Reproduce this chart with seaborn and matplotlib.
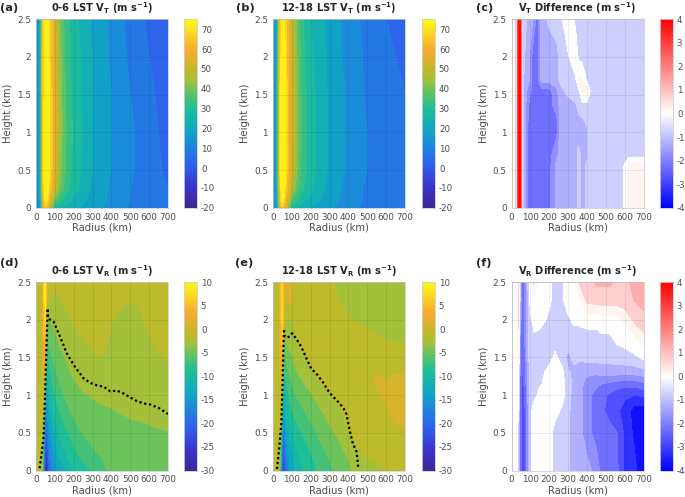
import matplotlib
matplotlib.use("Agg")
import matplotlib.pyplot as plt
from matplotlib.cm import ScalarMappable
from matplotlib.colors import LinearSegmentedColormap, Normalize
import numpy as np
import seaborn as sns

# tangential wind
radius_vt = [0, 15, 25, 35, 45, 55, 65, 80, 100, 130, 160, 200, 250, 300, 400, 500, 600, 700]
height_vt = [0, 0.1, 0.25, 0.5, 1, 1.5, 2, 2.5]
vt_night = [
    [5, 12, 22, 40, 62, 62, 55, 40, 29, 25, 23, 21, 19, 17, 13, 9, 6, 5],
    [6, 13, 25, 48, 70, 72, 64, 52, 38, 31, 27, 24, 21, 18, 14, 10, 7, 5],
    [6, 14, 28, 56, 74, 75, 71, 61, 49, 38, 32, 27, 23, 19, 14, 10, 7, 5],
    [6, 15, 30, 62, 74, 75, 73, 65, 54, 41, 34, 28, 24, 20, 15, 11, 7, 4],
    [6, 15, 30, 62, 74, 75, 73, 65, 55, 42, 35, 29, 24, 20, 15, 11, 7, 3],
    [6, 15, 30, 61, 73, 75, 73, 65, 55, 42, 34, 28, 24, 20, 15, 10, 6, 3],
    [6, 15, 30, 60, 72, 74, 72, 64, 54, 41, 33, 28, 24, 20, 14, 9, 5, 2],
    [5, 15, 29, 58, 70, 73, 71, 63, 52, 39, 32, 27, 23, 19, 14, 8, 4, 1],
]
vt_day = [
    [5, 12, 24, 44, 64, 62, 54, 40, 28, 24, 22, 20, 18, 16, 12, 8, 6, 6],
    [6, 14, 28, 52, 72, 72, 62, 50, 36, 30, 26, 23, 20, 17, 13, 9, 6, 5],
    [6, 15, 31, 58, 75, 75, 69, 58, 46, 36, 30, 26, 22, 18, 13, 9, 6, 5],
    [6, 15, 32, 64, 75, 75, 71, 62, 51, 39, 32, 27, 23, 19, 14, 10, 6, 5],
    [6, 15, 32, 64, 75, 75, 71, 62, 52, 40, 33, 27, 23, 19, 14, 10, 6, 5],
    [6, 15, 32, 63, 74, 74, 71, 62, 52, 40, 32, 27, 23, 19, 14, 9, 6, 5],
    [6, 15, 31, 62, 73, 73, 70, 61, 51, 39, 31, 26, 22, 19, 13, 9, 6, 4],
    [5, 15, 30, 60, 71, 72, 69, 60, 49, 37, 30, 25, 22, 18, 13, 8, 5, 4],
]

radius_vt_diff = [0, 12, 22, 30, 36, 42, 48, 55, 70, 90, 110, 135, 160, 200, 240, 260, 300, 340, 355,
                  375, 400, 420, 450, 500, 590, 620, 700]
height_vt_diff = [0, 0.55, 0.7, 1, 1.15, 1.35, 1.55, 1.7, 2, 2.5]
vt_diff = [
    [-.3, -.3, .7, .7, 3.5, 4, 4, -.8, -1.3, -2.2, -2.3, -2.3, -2.2, -2.2, -1.3, -1.3, -1.3, -1.2, -.8, -1.2, -.9, -.7, -.7, -.7, -.6, .2, .2],
    [-.3, -.3, .7, .7, 3.5, 4, 4, -.8, -1.3, -2.2, -2.3, -2.3, -2.2, -2.2, -1.3, -1.3, -1.3, -1.2, -.8, -1.2, -.9, -.7, -.7, -.7, -.6, .2, .2],
    [-.3, -.3, .7, .7, 3.5, 4, 4, -.8, -1.3, -2.2, -2.3, -2.3, -2.2, -2.2, -1.6, -1.3, -1.3, -1.2, -.8, -1.2, -1.1, -.7, -.7, -.7, -.7, -.7, -.7],
    [-.3, -.3, .7, .7, 3.5, 4, 4, -.8, -1.3, -2.2, -2.3, -2.3, -2.3, -2.2, -2.1, -1.3, -1.3, -1.3, -1.3, -1.2, -1.1, -.7, -.7, -.7, -.7, -.7, -.7],
    [-.3, -.3, .7, .7, 3.5, 4, 4, -.8, -1.3, -2.1, -2.3, -2.3, -2.3, -2.2, -2.1, -1.3, -1.3, -1.3, -1.2, -1.1, -.9, -.7, -.7, -.7, -.7, -.7, -.7],
    [-.3, -.3, .7, .7, 3.5, 4, 4, -.8, -1.3, -2, -2.2, -2.3, -2.3, -2.2, -1.8, -1.3, -1.3, -1.1, -.8, -.7, -.7, -.7, -.7, -.7, -.7, -.7, -.7],
    [-.3, -.3, .7, .7, 3.5, 4, 4, -.8, -1.2, -1.8, -2.1, -2.2, -2.2, -2.2, -1.6, -1.2, -.8, -.7, -.7, .2, .2, -.6, -.7, -.7, -.7, -.7, -.7],
    [-.3, -.3, .7, .7, 3.5, 4, 4, -.8, -1.1, -1.3, -2.1, -2.2, -1.3, -1.3, -1.2, -.8, -.7, -.6, .1, .1, -.6, -.7, -.7, -.7, -.7, -.7, -.7],
    [-.3, -.3, .7, .7, 3.5, 4, 4, -.8, -1, -1.3, -2.1, -2.2, -1.3, -1.3, -1.2, -.8, -.6, .1, -.6, -.7, -.7, -.7, -.7, -.7, -.7, -.7, -.7],
    [-.3, -.3, .7, .7, 3.5, 4, 4, -.7, -.8, -1.2, -1.4, -2.2, -1.3, -.9, -.7, -.7, .1, -.7, -.7, -.7, -.7, -.7, -.7, -.7, -.7, -.7, -.7],
]

# radial wind
radius_vr = [0, 20, 35, 42, 50, 58, 70, 90, 120, 160, 200, 250, 300, 350, 400, 450, 500, 550, 600, 650, 700]
height_vr = [0, 0.25, 0.5, 0.75, 1, 1.25, 1.5, 1.75, 2, 2.25, 2.5]
vr_night = [
    [-.5, -1, -5, -18, -28, -27, -21, -16, -13.5, -12, -10, -8.8, -8, -6.6, -5.6, -5, -4.9, -4.9, -4.9, -4.8, -4.8],
    [-.5, -.5, -4, -15, -25, -24, -18, -14.5, -11.5, -9.8, -8.4, -7, -6.2, -5.7, -5.2, -5, -4.8, -4.8, -4.7, -4.6, -4.6],
    [-.5, -.5, -2.5, -10, -21, -20, -15, -12.5, -10, -8.3, -7, -5.9, -5.4, -5.1, -4.9, -4.7, -4.6, -4.5, -4.4, -4.2, -4.1],
    [-.5, -.5, -1, -6, -16, -17, -13, -10.5, -8.4, -6.9, -5.7, -4.7, -4.5, -4.3, -4.2, -4, -3.8, -3.7, -3.5, -3.4, -3.3],
    [-.5, -.5, -.5, -2, -10, -14, -11, -8.8, -7, -5.6, -4.8, -4.1, -3.9, -3.7, -3.6, -3.4, -3.3, -3.2, -3.1, -3, -3],
    [-.5, -.5, -.5, 1, -5, -12, -9, -7.2, -5.8, -4.7, -3.9, -3.5, -3.2, -3, -2.9, -2.8, -2.8, -2.7, -2.7, -2.6, -2.5],
    [-.5, -.5, -.5, 3, 1, -10, -7.4, -5.9, -4.8, -3.9, -3.2, -2.6, -2.2, -2, -2.3, -2.5, -2.6, -2.6, -2.6, -2.2, -1.9],
    [-.5, -.5, -.5, 4, 4, -7, -5.5, -4.8, -3.8, -3.1, -2.5, -2, -1.7, -1.6, -2.2, -2.5, -2.6, -2.5, -2.1, -1.6, -1.5],
    [-.5, -.5, -.5, 5, 7, -3, -4.2, -3.6, -3, -2.4, -1.8, -1.4, -1.2, -1.2, -1.9, -2.3, -2.5, -2.3, -1.6, -1.2, -1],
    [-.5, -.5, -.5, 6, 9, 0, -2.5, -2.5, -2.2, -1.7, -1.3, -1, -.8, -.9, -1.2, -1.8, -2, -1.8, -1.2, -.8, -.7],
    [-.5, -.5, -.5, 6, 9, 1, -1, -1.3, -1.3, -1.1, -.9, -.6, -.5, -.6, -.8, -1, -1, -1, -.8, -.6, -.5],
]
vr_day = [
    [-.5, -1, -4, -12, -24, -24, -20, -15, -12, -10, -9, -7.5, -6.5, -5.2, -4.4, -3.4, -2.8, -2.4, -2.1, -1.8, -1.6],
    [-.5, -.5, -3, -9, -21, -21, -17, -13, -10.5, -9, -8, -6.5, -5.5, -4.6, -3.6, -2.2, -1.6, -1.3, -1, -.7, -.5],
    [-.5, -.5, -1, -5, -17, -18, -14, -11, -9, -7.8, -6.8, -5.5, -4.5, -3.6, -2.2, -1.4, -1, -.8, -.6, -.3, -.2],
    [-.5, -.5, -.5, -2, -12, -15, -11.5, -9, -7.4, -6.4, -5.4, -4.4, -3.4, -2.4, -1.3, -.8, -.6, -.5, -.2, .3, .4],
    [-.5, -.5, -.5, 0, -6, -12, -9.5, -7.5, -6, -5, -4.2, -3, -2.2, -1.4, -.8, -.6, -.4, -.1, .2, .4, .5],
    [-.5, -.5, -.5, 1, -2, -9, -7.5, -6, -4.5, -3.6, -2.6, -1.6, -1.2, -1, -.7, -.6, -.3, .1, -.1, .1, .1],
    [-.5, -.5, -.5, 2, 3, -6.5, -5.5, -4.4, -3.4, -2.4, -1.4, -1, -.8, -.7, -.8, -.8, -.9, -.8, -.7, -.7, -1.2],
    [-.5, -.5, -.5, 3, 6, -3.5, -3.8, -3.2, -2.2, -1.2, -.8, -.7, -.7, -.8, -1, -1.2, -1.5, -1.8, -2.1, -2.3, -2.4],
    [-.5, -.5, -.5, 4, 7, -.5, -2.4, -2.4, -1.6, -.8, -.6, -.7, -.9, -1.3, -1.9, -2.2, -2.4, -2.5, -2.6, -2.7, -2.8],
    [-.5, -.5, -.5, 5, 7, 1, -.8, .5, -.9, -.6, -.7, -1, -1.5, -2, -2.4, -2.6, -2.8, -2.9, -3, -3, -3.2],
    [-.5, -.5, -.5, 5, 8, 2, 1, 2, -.5, -.8, -1, -1.3, -1.8, -2.2, -2.5, -2.7, -2.9, -3, -3.1, -3.3, -4.2],
]

radius_vr_diff = [0, 30, 38, 46, 55, 70, 85, 100, 120, 150, 200, 230, 270, 300, 330, 360, 400, 450, 480, 520, 560, 600, 650, 700]
height_vr_diff = [0, 0.5, 0.8, 1, 1.15, 1.3, 1.5, 1.75, 2, 2.25, 2.5]
vr_diff = [
    [-.2, -.2, -1, -2.3, -2.7, -2.7, -1.8, -.7, -.2, -.2, -.2, -.7, -.7, -.9, -1.2, -1.3, -1.3, -1.7, -2.2, -2.3, -2.4, -3.1, -3.3, -4],
    [-.2, -.2, -1, -2.3, -2.7, -2.7, -1.8, -.7, -.2, -.2, -.2, -.7, -.7, -.9, -1.2, -1.3, -1.8, -2.2, -2.3, -2.3, -2.5, -3.1, -3.6, -4],
    [-.2, -.2, -.6, -2.3, -2.7, -2.6, -1.7, -.7, -.2, -.2, -.2, -.3, -.6, -.9, -1.2, -1.3, -1.8, -2.2, -2.4, -2.7, -2.9, -3.2, -3.7, -3.8],
    [-.2, -.2, -.3, -2.3, -2.7, -2.5, -1.6, -.7, -.7, -.3, -.2, -.2, -.3, -.8, -1.2, -1.3, -1.8, -2.2, -2.3, -2.6, -2.8, -2.9, -3, -2.9],
    [-.2, -.2, -.2, -2.3, -2.7, -2.4, -1.5, -.7, -.7, -.6, -.2, -.2, -.3, -.8, -1.1, -1.3, -1.7, -1.9, -2, -2.1, -2.2, -2.3, -2.3, -2.1],
    [-.2, -.2, -.2, -2.2, -2.6, -2.3, -1.4, -.7, -.7, -.7, -.3, -.3, -.4, -.9, -1.2, -1.3, -1.4, -1.4, -1.3, -1.3, -1.3, -1.3, -1.3, -1.2],
    [-.2, -.2, .1, -2, -2.6, -2.2, -1.3, -.7, -.7, -.7, -.7, -.4, -.7, -1.2, -.8, -.9, -.8, -.8, -.8, -.8, -.7, -.7, -.6, -.4],
    [-.2, -.2, .4, -1.8, -2.5, -2, -1.3, -.7, -.6, -.7, -.7, -.7, -.7, -.7, -.7, -.7, -.7, -.7, -.6, -.6, -.4, -.3, -.1, .3],
    [-.2, -.2, .6, -1.5, -2.5, -2, -1.3, -.6, -.3, -.3, -.6, -.7, -.7, -.6, -.4, -.4, -.3, -.3, -.2, -.2, -.1, .1, .6, .9],
    [-.2, -.1, .7, -1.2, -2.5, -2, -1.2, -.3, -.2, -.2, -.4, -.7, -.6, -.2, -.2, -.2, .6, .7, .7, .7, .7, .8, 1, 1.1],
    [-.2, .1, .7, -1, -2.5, -2, -1.1, -.2, .6, -.2, -.3, -.7, -.6, -.2, -.2, .6, .7, 1.1, 1.1, 1.1, .9, .8, 1.2, 1.2],
]

# dotted contours
line_d_r = [19, 30, 40, 48, 55, 60, 62, 64, 94, 125, 164, 208, 253, 290, 323, 360, 394, 430, 465, 500, 535, 570, 606, 650, 700]
line_d_z = [0.03, 0.22, 0.44, 1.0, 1.6, 2.0, 2.15, 2.02, 1.97, 1.79, 1.55, 1.37, 1.22, 1.16, 1.13, 1.11, 1.05, 1.06, 1.02, 0.97, 0.92, 0.89, 0.875, 0.83, 0.75]
line_e_r = [21, 33, 44, 50, 55, 58, 62, 74, 88, 102, 125, 150, 175, 203, 235, 265, 300, 353, 375, 389, 405, 424, 442, 448, 452]
line_e_z = [0.02, 0.3, 0.62, 1.1, 1.6, 1.88, 1.78, 1.76, 1.78, 1.82, 1.74, 1.64, 1.5, 1.35, 1.27, 1.17, 1.03, 0.89, 0.82, 0.75, 0.55, 0.35, 0.26, 0.15, 0.02]

titles = ["0-6 LST $\\mathbf{V_T}$ (m s$^{\\mathbf{-1}}$)", "12-18 LST $\\mathbf{V_T}$ (m s$^{\\mathbf{-1}}$)",
          "$\\mathbf{V_T}$ Difference (m s$^{\\mathbf{-1}}$)", "0-6 LST $\\mathbf{V_R}$ (m s$^{\\mathbf{-1}}$)",
          "12-18 LST $\\mathbf{V_R}$ (m s$^{\\mathbf{-1}}$)", "$\\mathbf{V_R}$ Difference (m s$^{\\mathbf{-1}}$)"]
panel_labels = ["(a)", "(b)", "(c)", "(d)", "(e)", "(f)"]

sns.set_style("white")
plt.rcParams["font.family"] = "DejaVu Sans"
plt.rcParams["mathtext.fontset"] = "dejavusans"
plt.rcParams["axes.unicode_minus"] = False

W, H = 685.0, 497.0
grey = "#4d4d4d"

# parula-like map
parula = LinearSegmentedColormap.from_list("parula_like", [
    (0.0, "#3c2896"), (0.105, "#3c32c8"), (0.21, "#325aeb"), (0.316, "#1e82e1"),
    (0.42, "#0faabe"), (0.526, "#1ebe96"), (0.63, "#6ec35a"), (0.675, "#a5c03a"), (0.737, "#c3b928"),
    (0.842, "#faaa32"), (0.947, "#fae11e"), (1.0, "#fafa0f")])
bwr = sns.blend_palette(["#0000ff", "#ffffff", "#ff0000"], as_cmap=True)


def diff_colors(levels):
    mids = (np.array(levels[:-1]) + np.array(levels[1:])) / 2
    colors = [bwr((m + 4) / 8) for m in mids]
    # the two bands next to zero print almost white
    colors[len(colors) // 2 - 1] = "#ffffff"
    colors[len(colors) // 2] = "#fff6f2"
    return colors


def panel(i, px_left, px_top, px_bar, r, z, field, vmin, vmax, levels, cmap, bar_ticks, line=None):
    ax = fig.add_axes([px_left / W, 1 - (px_top + 188.5) / H, 132 / W, 188.5 / H])
    if cmap is bwr:
        ax.contourf(r, z, np.array(field), levels=levels, colors=diff_colors(levels), extend="both")
    else:
        ax.contourf(r, z, np.array(field), levels=levels, cmap=cmap, vmin=vmin, vmax=vmax, extend="both")
    if line is not None:
        sns.lineplot(x=line[0], y=line[1], ax=ax, sort=False, estimator=None, color="black",
                     linestyle=(0, (1, 1.2)), linewidth=1.6, zorder=5)
    ax.set_xlim(0, 700)
    ax.set_ylim(0, 2.5)
    ax.set_xticks(range(0, 701, 100))
    ax.set_yticks([0, 0.5, 1, 1.5, 2, 2.5])
    ax.set_yticklabels(["0", "0.5", "1", "1.5", "2", "2.5"])
    ax.set_axisbelow(False)
    ax.grid(True, color="black", alpha=0.07, linewidth=0.7)
    ax.tick_params(direction="in", length=1.5, width=0.5, labelsize=6.4, colors=grey, pad=3.5)
    ax.set_xlabel("Radius (km)", fontsize=7.2, color=grey)
    ax.set_ylabel("Height (km)", fontsize=7.2, color=grey)
    ax.xaxis.set_label_coords(0.5, -15 / 188.5)
    ax.yaxis.set_label_coords(-22.5 / 132, 0.5)
    for spine in ax.spines.values():
        spine.set_color("#d0d0d0")
        spine.set_linewidth(0.6)
    ax.set_title(titles[i], fontsize=7.1, fontweight="bold", color="#262626", pad=5)

    cax = fig.add_axes([px_bar / W, 1 - (px_top + 188.5) / H, 13 / W, 188.5 / H])
    bar = fig.colorbar(ScalarMappable(Normalize(vmin, vmax), cmap), cax=cax, ticks=bar_ticks)
    bar.ax.tick_params(direction="in", length=1.5, width=0.5, labelsize=6.2, colors=grey, pad=2.8)
    bar.outline.set_edgecolor("#d0d0d0")
    bar.outline.set_linewidth(0.6)
    return ax


fig = plt.figure(figsize=(W / 100, H / 100), dpi=100)

vt_levels = list(range(-20, 80, 5))
vr_levels = list(range(-30, 12, 2))
diff_levels = list(np.arange(-4, 4.5, 0.5))
vt_ticks = list(range(-20, 71, 10))
vr_ticks = list(range(-30, 11, 5))
diff_ticks = list(range(-4, 5))

panel(0, 36, 19.3, 184, radius_vt, height_vt, vt_night, -20, 75, vt_levels, parula, vt_ticks)
panel(1, 273, 19.3, 422, radius_vt, height_vt, vt_day, -20, 75, vt_levels, parula, vt_ticks)
panel(2, 511.5, 19.3, 660, radius_vt_diff, height_vt_diff, vt_diff, -4, 4, diff_levels, bwr, diff_ticks)
panel(3, 36, 282, 184, radius_vr, height_vr, vr_night, -30, 10, vr_levels, parula, vr_ticks, (line_d_r, line_d_z))
panel(4, 273, 282, 422, radius_vr, height_vr, vr_day, -30, 10, vr_levels, parula, vr_ticks, (line_e_r, line_e_z))
panel(5, 511.5, 282, 660, radius_vr_diff, height_vr_diff, vr_diff, -4, 4, diff_levels, bwr, diff_ticks)

for label, px, py in zip(panel_labels, [0, 236, 476, 0, 235, 476], [8, 8, 8, 263, 263, 263]):
    fig.text(px / W, 1 - py / H, label, fontsize=8.2, fontweight="bold", color="#262626", va="center")

fig.savefig("out.png", dpi=100)
